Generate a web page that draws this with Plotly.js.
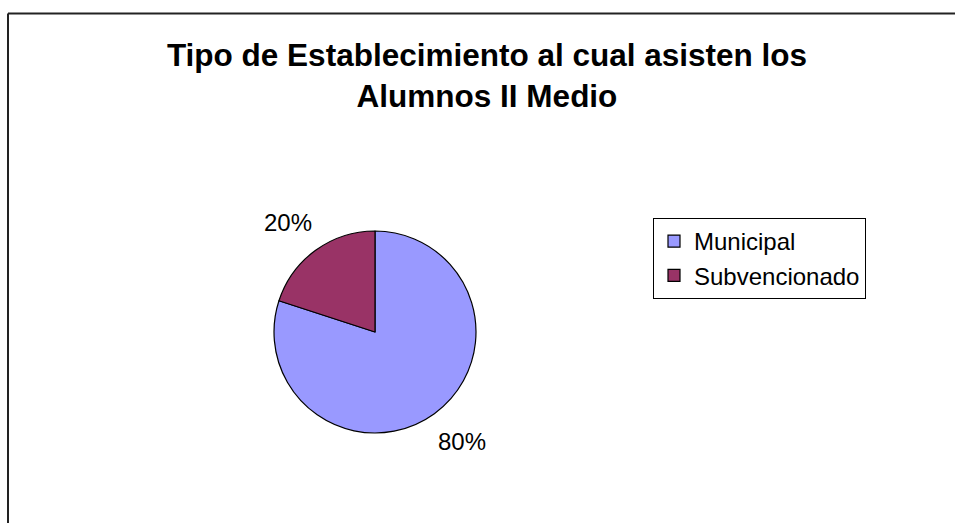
<!DOCTYPE html>
<html>
<head>
<meta charset="utf-8">
<script src="https://cdn.plot.ly/plotly-3.0.1.min.js"></script>
<style>
  html, body { margin: 0; padding: 0; background: #ffffff; }
  #chart { width: 955px; height: 523px; }
</style>
</head>
<body>
<div id="chart"></div>
<script>
const categories = ["Municipal", "Subvencionado"];
const values = [80, 20];
const sliceColors = ["#9999FF", "#993366"];
const chartTitle = "Tipo de Establecimiento al cual asisten los<br>Alumnos II Medio";

const W = 955, H = 523;
const px = x => x / W;
const py = y => 1 - y / H;

// pie geometry (pixels)
const cx = 375, cy = 332, r = 101;

const trace = {
  type: "pie",
  labels: categories,
  values: values,
  sort: false,
  direction: "clockwise",
  rotation: 0,
  marker: { colors: sliceColors, line: { color: "#000000", width: 1.2 } },
  textinfo: "none",
  hoverinfo: "label+percent",
  domain: { x: [px(cx - r), px(cx + r)], y: [py(cy + r), py(cy - r)] },
  automargin: false
};

// percent labels placed outside each slice, derived from the data
const total = values.reduce((a, b) => a + b, 0);
const annotations = [];
let cum = 0;
values.forEach((v, i) => {
  const midFrac = (cum + v / 2) / total;
  cum += v;
  const ang = (90 - 360 * midFrac) * Math.PI / 180;
  const lx = cx + 148 * Math.cos(ang);
  const ly = cy - 135 * Math.sin(ang);
  annotations.push({
    x: px(lx), y: py(ly), xref: "paper", yref: "paper",
    xanchor: "center", yanchor: "middle", showarrow: false,
    text: Math.round(100 * v / total) + "%",
    font: { family: "Liberation Sans, Arial, sans-serif", size: 24, color: "#000000" }
  });
});

const layout = {
  width: W,
  height: H,
  margin: { l: 0, r: 0, t: 0, b: 0 },
  paper_bgcolor: "#ffffff",
  plot_bgcolor: "#ffffff",
  font: { family: "Liberation Sans, Arial, sans-serif", color: "#000000" },
  title: {
    text: "<b>" + chartTitle + "</b>",
    font: { family: "Liberation Sans, Arial, sans-serif", size: 31.5, color: "#000000" },
    x: 487 / W,
    xanchor: "center",
    xref: "paper",
    y: 1 - 66 / H,
    yanchor: "top",
    yref: "container"
  },
  showlegend: true,
  legend: {
    x: px(653),
    y: py(218),
    xanchor: "left",
    yanchor: "top",
    bgcolor: "#ffffff",
    bordercolor: "#000000",
    borderwidth: 1,
    font: { family: "Liberation Sans, Arial, sans-serif", size: 24, color: "#000000" },
    traceorder: "normal"
  },
  annotations: annotations,
  shapes: [
    { type: "line", xref: "paper", yref: "paper", x0: px(8), x1: 1.02, y0: py(13.5), y1: py(13.5),
      line: { color: "#222222", width: 2 } },
    { type: "line", xref: "paper", yref: "paper", x0: px(8), x1: px(8), y0: py(13.5), y1: -0.02,
      line: { color: "#222222", width: 2 } }
  ]
};

Plotly.newPlot("chart", [trace], layout, { displayModeBar: false, staticPlot: true });
</script>
</body>
</html>
